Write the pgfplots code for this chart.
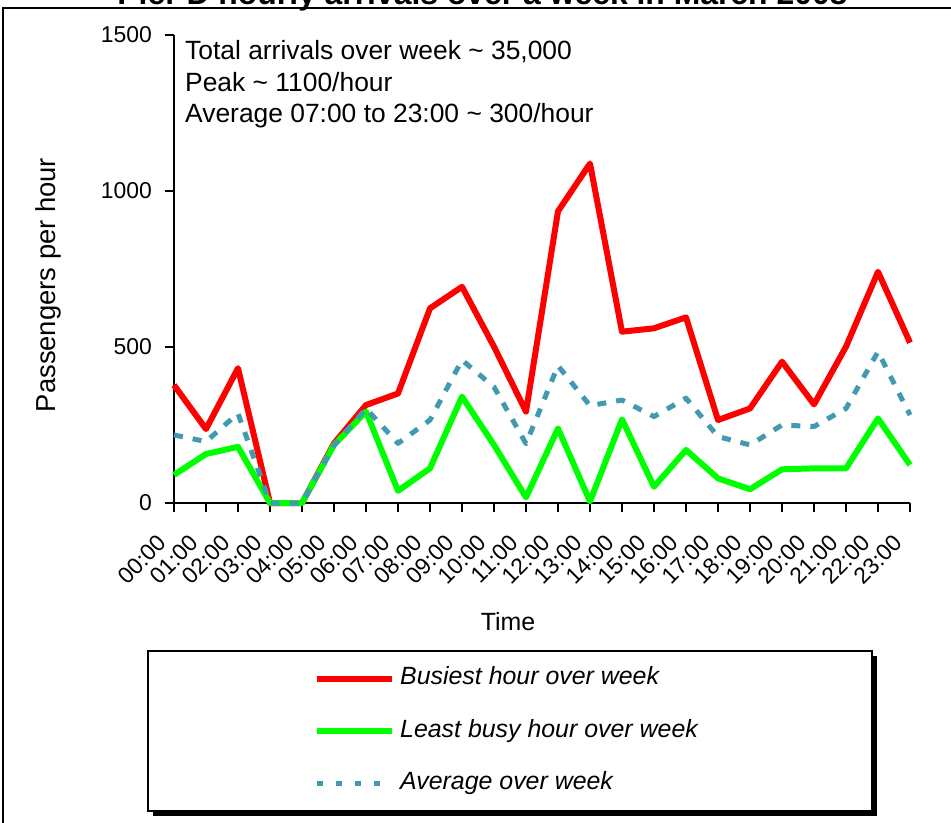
\documentclass[border=0pt]{standalone}
\usepackage{fontspec}
\setmainfont{Liberation Sans}
\usepackage{pgfplots}
\pgfplotsset{compat=1.18}
\definecolor{redline}{RGB}{255,0,0}
\definecolor{greenline}{RGB}{0,255,0}
\definecolor{tealline}{RGB}{66,153,178}
\begin{document}
\begin{tikzpicture}[x=1bp,y=1bp]
% outer chart frame
\draw[line width=2bp] (-171,-330) -- (-171,495) -- (800,495);
% title (cut off at the top)
\node[font=\bfseries\fontsize{32}{32}\selectfont, anchor=base, inner sep=0pt] at (308.5,498) {Pier D hourly arrivals over a week in March 2008};
% legend box with shadow
\fill[black] (-21,-153) rectangle (703,-313);
\draw[line width=1.2bp, fill=white] (-26,-148) rectangle (698,-308);
\begin{axis}[
  at={(0,0)}, anchor=origin,
  scale only axis, width=736bp, height=468bp,
  xmin=0, xmax=23, ymin=0, ymax=1500,
  axis x line=bottom, axis y line=left,
  axis line style={line width=2bp, -},
  tick align=outside, major tick length=9bp,
  tick style={line width=1.5bp, black},
  xtick={0,...,23},
  xticklabels={00:00,01:00,02:00,03:00,04:00,05:00,06:00,07:00,08:00,09:00,10:00,11:00,12:00,13:00,14:00,15:00,16:00,17:00,18:00,19:00,20:00,21:00,22:00,23:00},
  ytick={0,500,1000,1500},
  /pgf/number format/assume math mode=true,
  /pgf/number format/1000 sep={},
  yticklabel style={font=\fontsize{23}{23}\selectfont, inner sep=0pt, xshift=-13bp},
  xticklabel style={font=\fontsize{23}{23}\selectfont, xshift=-11.5bp, yshift=-27bp, rotate=45, anchor=east, inner sep=0pt},
  every axis x label/.style={at={(axis description cs:0.4538,-0.2543)}, anchor=center, font=\fontsize{25}{25}\selectfont},
  every axis y label/.style={at={(axis description cs:-0.1712,0.4658)}, anchor=center, rotate=90, font=\fontsize{27.5}{27.5}\selectfont},
  xlabel={Time},
  ylabel={Passengers per hour},
  clip=false,
  legend style={at={(axis description cs:0.19022,-0.4880)}, anchor=west, draw=none, fill=none, inner sep=0pt,
    font=\fontsize{25}{25}\selectfont\itshape, nodes={inner sep=0pt, text height=18bp, text depth=6bp},
    row sep=28.5bp, column sep=5bp},
  legend cell align=left,
  legend image code/.code={\draw[#1] (0bp,0bp) -- (75bp,0bp);},
  line join=round,
]
\addplot[redline, line width=6bp] coordinates {
(0,378) (1,237) (2,432) (3,0) (4,0) (5,191) (6,314) (7,351) (8,624) (9,693) (10,501) (11,293)
(12,935) (13,1088) (14,549) (15,560) (16,595) (17,266) (18,303) (19,453) (20,316) (21,501) (22,741) (23,514)};
\addlegendentry{Busiest hour over week}
\addplot[greenline, line width=6bp] coordinates {
(0,90) (1,157) (2,180) (3,0) (4,0) (5,186) (6,293) (7,39) (8,111) (9,341) (10,186) (11,18)
(12,239) (13,5) (14,268) (15,52) (16,170) (17,79) (18,44) (19,108) (20,111) (21,111) (22,271) (23,122)};
\addlegendentry{Least busy hour over week}
\addplot[tealline, line width=5bp, dash pattern=on 9bp off 10bp, forget plot] coordinates {
(0,218) (1,197) (2,287) (3,0) (4,0) (5,185) (6,303) (7,191) (8,266) (9,458) (10,372) (11,190)
(12,440) (13,312) (14,330) (15,277) (16,336) (17,213) (18,186) (19,250) (20,245) (21,303) (22,485) (23,282)};
\addlegendimage{tealline, line width=5bp, dash pattern=on 5.5bp off 13.5bp}
\addlegendentry{Average over week}
\node[anchor=base west, inner sep=0pt, font=\fontsize{26.5}{26.5}\selectfont] at (axis description cs:0.01495,0.9487) {Total arrivals over week \textasciitilde\ 35,000};
\node[anchor=base west, inner sep=0pt, font=\fontsize{26.5}{26.5}\selectfont] at (axis description cs:0.01495,0.8803) {Peak \textasciitilde\ 1100/hour};
\node[anchor=base west, inner sep=0pt, font=\fontsize{26.5}{26.5}\selectfont] at (axis description cs:0.01495,0.8120) {Average 07:00 to 23:00 \textasciitilde\ 300/hour};
\end{axis}
\pgfresetboundingbox
\path[use as bounding box] (-174,-320) rectangle (777,503);
\end{tikzpicture}
\end{document}
